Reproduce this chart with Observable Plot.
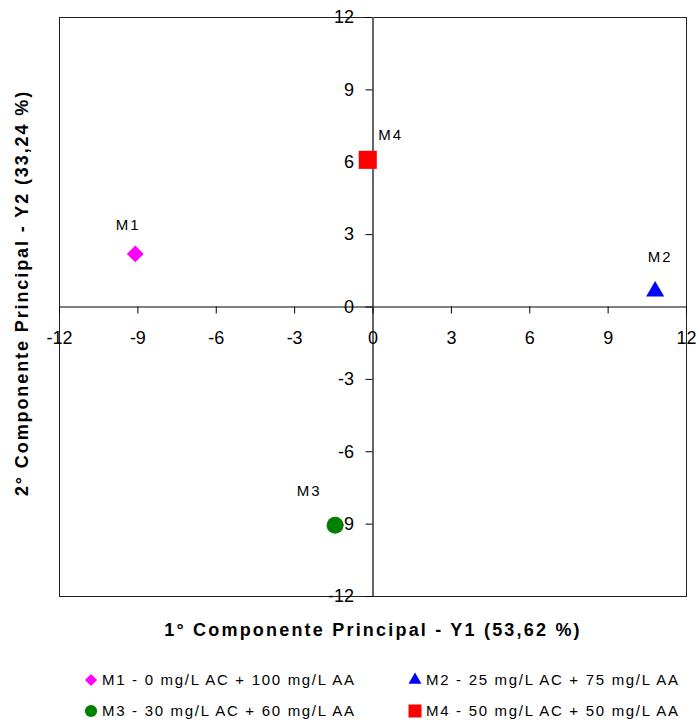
<!DOCTYPE html>
<html>
<head>
<meta charset="utf-8">
<script src="https://cdn.jsdelivr.net/npm/d3@7"></script>
<script src="https://cdn.jsdelivr.net/npm/@observablehq/plot@0.6"></script>
<style>
  body { margin: 0; background: #fff; font-family: "Liberation Sans", Arial, sans-serif; }
  #chart svg { display: block; }
  #legend {
    display: grid;
    grid-template-columns: 324px 300px;
    grid-auto-rows: 31px;
    margin: 14px 0 0 83px;
    font-size: 15px;
    letter-spacing: 1.7px;
    color: #000;
  }
  #legend .item { display: flex; align-items: center; white-space: nowrap; }
  #legend svg { flex: none; margin-right: 3px; }
</style>
</head>
<body>
<div id="chart"></div>
<div id="legend"></div>
<script>
// PCA scores of the four mixtures
const samples = ["M1", "M2", "M3", "M4"];
const pc1 = [-9.1, 10.8, -1.45, -0.2];
const pc2 = [2.2, 0.65, -9.05, 6.1];
const descriptions = [
  "M1 - 0 mg/L AC + 100 mg/L AA",
  "M2 - 25 mg/L AC + 75 mg/L AA",
  "M3 - 30 mg/L AC + 60 mg/L AA",
  "M4 - 50 mg/L AC + 50 mg/L AA"
];
const ticks = [-12, -9, -6, -3, 0, 3, 6, 9, 12];
const xTitle = "1° Componente Principal - Y1 (53,62 %)";
const yTitle = "2° Componente Principal - Y2 (33,24 %)";

// Marker styling per sample
const style = {
  M1: {symbol: "diamond2", fill: "#ff00ff", r: 7.6, dx: -7, dy: -29},
  M2: {symbol: "triangle", fill: "#0000ff", r: 6.7, dx: 5, dy: -34},
  M3: {symbol: "circle", fill: "#008000", r: 8.5, dx: -26, dy: -34.5},
  M4: {symbol: "square", fill: "#ff0000", r: 10.2, dx: 23, dy: -24.5}
};

const idx = samples.map((_, i) => i);
const font = "Liberation Sans, Arial, sans-serif";

const pointMarks = idx.flatMap(i => {
  const s = style[samples[i]];
  return [
    Plot.dot([i], {x: j => pc1[j], y: j => pc2[j], symbol: s.symbol, fill: s.fill, stroke: "none", r: s.r}),
    Plot.text([i], {x: j => pc1[j], y: j => pc2[j], text: j => samples[j], dx: s.dx, dy: s.dy,
      fontSize: 15, fill: "#000"})
  ];
});

const chart = Plot.plot({
  width: 699,
  height: 650,
  marginLeft: 59,
  marginRight: 13,
  marginTop: 17,
  marginBottom: 54,
  style: {fontFamily: font, fontSize: "18px", background: "#fff", color: "#000"},
  x: {domain: [-12, 12]},
  y: {domain: [-12, 12]},
  marks: [
    Plot.frame({stroke: "#222", strokeWidth: 1}),
    Plot.ruleY([0], {stroke: "#000", strokeWidth: 1.2}),
    Plot.ruleX([0], {stroke: "#666", strokeWidth: 2}),
    Plot.axisX(ticks, {y: 0, anchor: "bottom", tickSize: 7, tickPadding: 17, label: null, tickFormat: d => String(d)}),
    Plot.axisY(ticks, {x: 0, anchor: "left", tickSize: 7, tickPadding: 12, label: null, tickFormat: d => String(d)}),
    ...pointMarks,
    Plot.text([xTitle], {frameAnchor: "bottom", dy: 34, lineAnchor: "middle", textAnchor: "middle", fontSize: 18, fontWeight: "bold"}),
    Plot.text([yTitle], {frameAnchor: "left", textAnchor: "middle", lineAnchor: "middle", rotate: -90, dx: -37, dy: -14, fontSize: 18, fontWeight: "bold"})
  ]
});

// Wide letter spacing for the titles and point labels
const svg = d3.select(chart);
svg.selectAll("text")
  .filter(function() { return this.textContent === xTitle; })
  .style("letter-spacing", "2.2px");
svg.selectAll("text")
  .filter(function() { return this.textContent === yTitle; })
  .style("letter-spacing", "1.9px");
svg.selectAll("text")
  .filter(function() { return samples.includes(this.textContent); })
  .style("letter-spacing", "2px");
document.getElementById("chart").append(chart);

// Two-column legend with the same symbols
const legend = d3.select("#legend");
const legendScale = 0.72;
const symbolTypes = {diamond2: d3.symbolDiamond2, triangle: d3.symbolTriangle, circle: d3.symbolCircle, square: d3.symbolSquare};
idx.forEach(i => {
  const s = style[samples[i]];
  const item = legend.append("div").attr("class", "item");
  const sym = item.append("svg").attr("width", 16).attr("height", 16);
  const rr = s.r * legendScale;
  sym.append("path")
    .attr("transform", "translate(8,8)")
    .attr("d", d3.symbol(symbolTypes[s.symbol], Math.PI * rr * rr)())
    .attr("fill", s.fill);
  item.append("span").text(descriptions[i]);
});
</script>
</body>
</html>
